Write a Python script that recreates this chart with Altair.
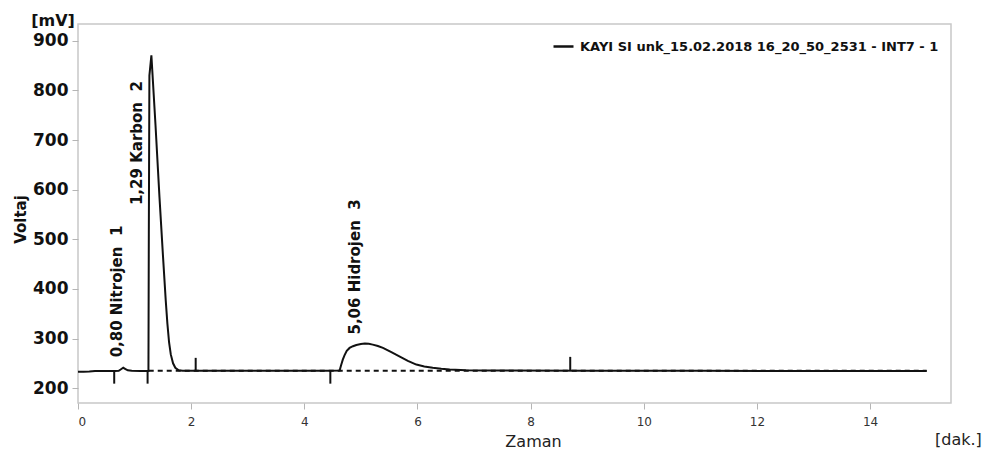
import altair as alt
import pandas as pd

# ---- data ----
time_min = [0.00, 0.10, 0.20, 0.30, 0.50, 0.65, 0.72, 0.76, 0.80, 0.84, 0.88, 0.95, 1.10,
            1.245, 1.252, 1.262, 1.297, 1.37, 1.44, 1.50, 1.55, 1.58, 1.61, 1.64, 1.68, 1.72, 1.78,
            1.85, 2.50, 3.50, 4.40, 4.624, 4.65, 4.68, 4.71, 4.75, 4.80, 4.86, 4.92, 5.00, 5.07,
            5.14, 5.21, 5.30, 5.39, 5.53, 5.68, 5.83, 5.98, 6.12, 6.27, 6.42, 6.57, 6.86, 7.20,
            7.50, 9.00, 11.00, 13.00, 15.00]
voltage_mv = [233.0, 233.0, 233.5, 234.5, 234.5, 234.5, 235.0, 238.0, 241.0, 238.5, 236.0, 235.0, 234.5,
              234.5, 520.0, 830.0, 871.0, 730.0, 585.0, 470.0, 378.0, 330.0, 292.0, 268.0, 250.0, 241.0, 236.0,
              235.0, 235.0, 235.0, 235.0, 235.4, 246.0, 257.5, 266.0, 275.0, 281.0, 284.5, 287.0, 289.0, 289.7,
              289.2, 287.7, 285.0, 281.0, 273.0, 264.0, 255.0, 247.5, 243.5, 241.0, 239.0, 237.5, 236.0, 235.6,
              235.5, 235.0, 235.0, 234.5, 234.5]
series_name = ["KAYI SI unk_15.02.2018 16_20_50_2531 - INT7 - 1"]

baseline_t = [1.25, 15.0]
baseline_mv = [235.0, 235.0]

marker_t = [0.64, 1.23, 4.46, 2.08, 8.70]
marker_from = [235.0, 235.0, 235.0, 235.0, 235.0]
marker_to = [209.0, 209.0, 209.0, 261.0, 263.0]

NB = "\u00a0"
peak_labels = ["0,80 Nitrojen" + NB * 2 + "1", "1,29 Karbon" + NB * 2 + "2", "5,06 Hidrojen" + NB * 2 + "3"]
label_t = [0.77, 1.14, 4.98]
label_mv = [262.0, 569.0, 308.0]

x_ticks = [0, 2, 4, 6, 8, 10, 12, 14]
y_ticks = [200, 300, 400, 500, 600, 700, 800, 900]
x_domain = [0, 15.43]
y_domain = [170, 934]

FONT = "DejaVu Sans"

trace = pd.DataFrame({"t": time_min, "v": voltage_mv, "series": series_name * len(time_min)})
base_df = pd.DataFrame({"t": baseline_t, "v": baseline_mv})
mark_df = pd.DataFrame({"t": marker_t, "v1": marker_from, "v2": marker_to})
lab_df = pd.DataFrame({"t": label_t, "v": label_mv, "label": peak_labels})

xs = alt.Scale(domain=x_domain, nice=False, zero=False)
ys = alt.Scale(domain=y_domain, nice=False, zero=False)

x_axis = alt.Axis(values=x_ticks, format="d", grid=False, domain=False, tickColor="#b5b5b5", tickSize=6,
                  labelFont=FONT, labelFontSize=12, labelColor="#333333", labelPadding=7,
                  title="Zaman", titleFont=FONT, titleFontSize=16, titleFontWeight="normal",
                  titleColor="#222222", titleX=455, titleY=38, titleBaseline="middle", titleAlign="center")
y_axis = alt.Axis(values=y_ticks, format="d", grid=False, domain=False, tickColor="#b5b5b5", tickSize=6,
                  labelFont=FONT, labelFontSize=17, labelFontWeight="bold", labelColor="#111111",
                  labelPadding=4, title="Voltaj", titleFont=FONT, titleFontSize=15,
                  titleFontWeight="bold", titleColor="#111111", titleAngle=270, titleX=-58, titleY=195,
                  titleBaseline="middle", titleAlign="center")

line = alt.Chart(trace).mark_line(strokeWidth=2).encode(
    x=alt.X("t:Q", scale=xs, axis=x_axis),
    y=alt.Y("v:Q", scale=ys, axis=y_axis),
    color=alt.Color("series:N", scale=alt.Scale(range=["#111111"]),
                    legend=alt.Legend(orient="none", legendX=474, legendY=11, title=None,
                                      symbolType="stroke", symbolSize=400, symbolStrokeWidth=2.5,
                                      labelFont=FONT, labelFontSize=13, labelFontWeight="bold",
                                      labelColor="#111111", labelOffset=5, padding=0, labelLimit=600)),
)

dash = alt.Chart(base_df).mark_line(strokeWidth=2, strokeDash=[5, 4], color="#111111").encode(
    x=alt.X("t:Q", scale=xs), y=alt.Y("v:Q", scale=ys))

ticks = alt.Chart(mark_df).mark_rule(strokeWidth=2, color="#111111").encode(
    x=alt.X("t:Q", scale=xs), y=alt.Y("v1:Q", scale=ys), y2="v2:Q")

labels = alt.Chart(lab_df).mark_text(angle=270, align="left", baseline="alphabetic", font=FONT,
                                     fontSize=15, fontWeight="bold", color="#111111").encode(
    x=alt.X("t:Q", scale=xs), y=alt.Y("v:Q", scale=ys), text="label:N")

mv_df = pd.DataFrame({"txt": ["[mV]"]})
mv = alt.Chart(mv_df).mark_text(align="center", baseline="middle", font=FONT, fontSize=16,
                                fontWeight="bold", color="#111111").encode(
    x=alt.value(-25), y=alt.value(-3), text="txt:N")

dak_df = pd.DataFrame({"txt": ["[dak.]"]})
dak = alt.Chart(dak_df).mark_text(align="left", baseline="middle", font=FONT, fontSize=16,
                                  color="#222222").encode(
    x=alt.value(857), y=alt.value(416), text="txt:N")

chart = alt.layer(dash, line, ticks, labels, mv, dak).properties(
    width=873, height=379,
    autosize=alt.AutoSizeParams(type="none"),
    padding={"left": 78, "top": 24, "right": 44, "bottom": 61},
    background="white",
).configure_view(stroke="#c8c8c8", strokeWidth=1.5)

chart.save("out.html", embed_options={"renderer": "svg", "actions": False})
